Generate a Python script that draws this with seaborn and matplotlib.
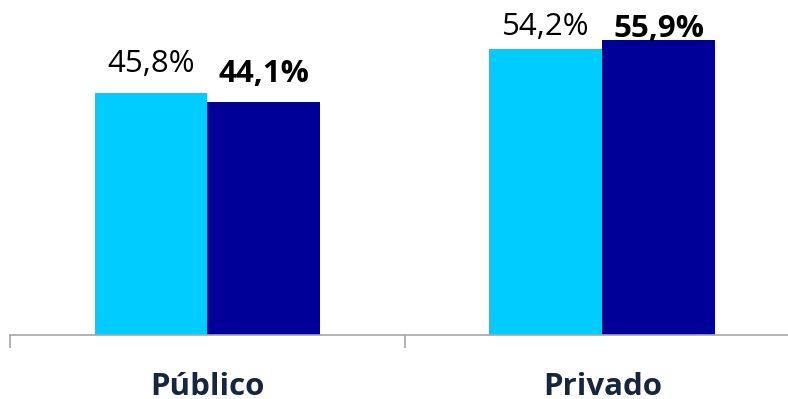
import matplotlib
matplotlib.use("Agg")
import matplotlib.pyplot as plt
import seaborn as sns
import pandas as pd

# Data
sectores = ["Público", "Privado"]
series = ["Anterior", "Actual"]
valores_anterior = [45.8, 54.2]
valores_actual = [44.1, 55.9]
colores = ["#00CCFF", "#000099"]

df = pd.DataFrame({
    "sector": sectores * 2,
    "serie": [series[0]] * len(sectores) + [series[1]] * len(sectores),
    "valor": valores_anterior + valores_actual,
})

sns.set_theme(style="white")
plt.rcParams["font.family"] = ["Open Sans", "DejaVu Sans"]

fig = plt.figure(figsize=(7.88, 3.99), dpi=100)
ax = fig.add_axes([10 / 788, 64 / 399, 778 / 788, 335 / 399])

sns.barplot(data=df, x="sector", y="valor", hue="serie", palette=colores,
            width=0.572, saturation=1, linewidth=0, ax=ax, legend=False)

# Axis styling
for s in ["top", "right", "left"]:
    ax.spines[s].set_visible(False)
ax.spines["bottom"].set_color("#A6A6A6")
ax.spines["bottom"].set_linewidth(1.2)
ax.set_yticks([])
ax.set_xticks([-0.5, 0.5, 1.5])
ax.set_xticklabels([])
ax.tick_params(axis="x", which="major", length=9, width=1.2, color="#A6A6A6",
               direction="out", bottom=True)
ax.set_xlim(-0.5, 1.47)
ax.set_ylim(0, 63.4)
ax.set_xlabel("")
ax.set_ylabel("")

# Value labels: lighter series regular, darker series bold (offsets in pixels)
offsets = {series[0]: [21, 14], series[1]: [20, 3]}
for cont, serie in zip(ax.containers, series):
    for i, bar in enumerate(cont):
        v = bar.get_height()
        ax.annotate(f"{v:.1f}%".replace(".", ","),
                    (bar.get_x() + bar.get_width() / 2, v),
                    xytext=(0, offsets[serie][i] * 0.72), textcoords="offset points",
                    ha="center", va="baseline", fontsize=22.5, color="black",
                    fontweight="bold" if serie == series[1] else "normal")

for i, name in enumerate(sectores):
    ax.text(i, -0.155, name, transform=ax.get_xaxis_transform(), ha="center",
            va="center", fontsize=22.5, fontweight="bold", color="#17263F")

fig.savefig("out.png", dpi=100)
